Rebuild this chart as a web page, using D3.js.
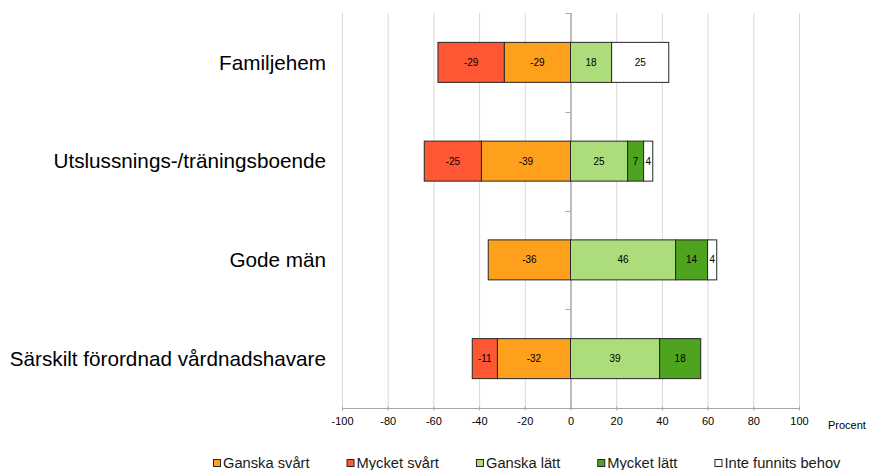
<!DOCTYPE html>
<html><head><meta charset="utf-8">
<script src="https://cdnjs.cloudflare.com/ajax/libs/d3/7.8.5/d3.min.js"></script>
<style>body{margin:0;background:#fff;}svg{display:block;font-family:"Liberation Sans",Arial,sans-serif;}</style>
</head><body><div id="chart"></div>
<script>
const categories = ["Familjehem","Utslussnings-/träningsboende","Gode män","Särskilt förordnad vårdnadshavare"];
const ganskaSvart = [-29,-39,-36,-32];
const mycketSvart = [-29,-25,0,-11];
const ganskaLatt = [18,25,46,39];
const mycketLatt = [0,7,14,18];
const inteBehov = [25,4,4,0];
const xTicks = [-100,-80,-60,-40,-20,0,20,40,60,80,100];
const seriesNames = ["Ganska svårt","Mycket svårt","Ganska lätt","Mycket lätt","Inte funnits behov"];
const seriesColors = ["#FFA01C","#FF5733","#ADDC7A","#4EA31F","#FFFFFF"];

const W=870,H=470;
const svg=d3.select("#chart").append("svg").attr("width",W).attr("height",H);
const x=d3.scaleLinear().domain([-100,100]).range([342,799]);
const y=d3.scaleBand().domain(categories).range([13,408]).paddingInner(0.595).paddingOuter(0.2975);

// gridlines
svg.append("g").selectAll("line").data(xTicks.filter(d=>d!==0)).join("line")
  .attr("x1",d=>x(d)+0.5).attr("x2",d=>x(d)+0.5).attr("y1",13).attr("y2",408)
  .attr("stroke","#d9d9d9").attr("stroke-width",1);

// x axis
const xAxis=svg.append("g").attr("transform","translate(0,408.5)")
  .call(d3.axisBottom(x).tickValues(xTicks).tickSize(4).tickFormat(d=>d));
xAxis.select(".domain").attr("stroke","#a6a6a6").attr("d",`M${x(-100)},0H${x(100)+1}`);
xAxis.selectAll(".tick line").attr("stroke","#a6a6a6").attr("y1",-2).attr("y2",2);
xAxis.selectAll("text").attr("font-size",11).attr("fill","#000").attr("dy","0.9em")
  .attr("font-family","'Liberation Sans',Arial,sans-serif");
svg.append("text").attr("x",828).attr("y",429).attr("font-size",11).text("Procent");

// zero line
svg.append("line").attr("x1",x(0)+0.5).attr("x2",x(0)+0.5).attr("y1",13).attr("y2",408)
  .attr("stroke","#a6a6a6").attr("stroke-width",1.5);
// category separator ticks on zero line
const sepYs=d3.range(0,categories.length+1).map(i=>13+i*(395/4));
svg.append("g").selectAll("line").data(sepYs).join("line")
  .attr("x1",x(0)-5).attr("x2",x(0)).attr("y1",d=>Math.round(d)+0.5).attr("y2",d=>Math.round(d)+0.5)
  .attr("stroke","#a6a6a6");

// build segments
const seriesData=[ganskaSvart,mycketSvart,ganskaLatt,mycketLatt,inteBehov];
const segs=[];
categories.forEach((c,i)=>{
  let neg=0,pos=0;
  seriesData.forEach((arr,s)=>{
    const v=arr[i];
    if(!v) return;
    if(v<0){segs.push({c,s,v,x0:neg+v,x1:neg});neg+=v;}
    else{segs.push({c,s,v,x0:pos,x1:pos+v});pos+=v;}
  });
});
const g=svg.append("g");
g.selectAll("rect").data(segs).join("rect")
  .attr("x",d=>x(d.x0)).attr("width",d=>x(d.x1)-x(d.x0))
  .attr("y",d=>y(d.c)).attr("height",y.bandwidth())
  .attr("fill",d=>seriesColors[d.s]).attr("stroke","#262626").attr("stroke-width",1);
g.selectAll("text").data(segs).join("text")
  .attr("x",d=>(x(d.x0)+x(d.x1))/2).attr("y",d=>y(d.c)+y.bandwidth()/2)
  .attr("text-anchor","middle").attr("dominant-baseline","central")
  .attr("font-size",10).attr("fill","#000").text(d=>d.v);

// category labels
svg.append("g").selectAll("text").data(categories).join("text")
  .attr("x",326).attr("y",d=>y(d)+y.bandwidth()/2).attr("dy","0.35em")
  .attr("text-anchor","end").attr("font-size",20.7).attr("fill","#000").text(d=>d);

// legend (flow layout)
let lx=213;
seriesNames.forEach((name,i)=>{
  const item=svg.append("g").attr("transform",`translate(${lx},463)`);
  item.append("rect").attr("x",0.5).attr("y",-3.5).attr("width",7).attr("height",7)
    .attr("fill",seriesColors[i]).attr("stroke","#262626").attr("stroke-width",1);
  const t=item.append("text").attr("x",10).attr("y",0).attr("dy","0.35em")
    .attr("font-size",14.7).attr("fill","#1a1a1a").text(name);
  lx+=10+t.node().getComputedTextLength()+37;
});
</script></body></html>
